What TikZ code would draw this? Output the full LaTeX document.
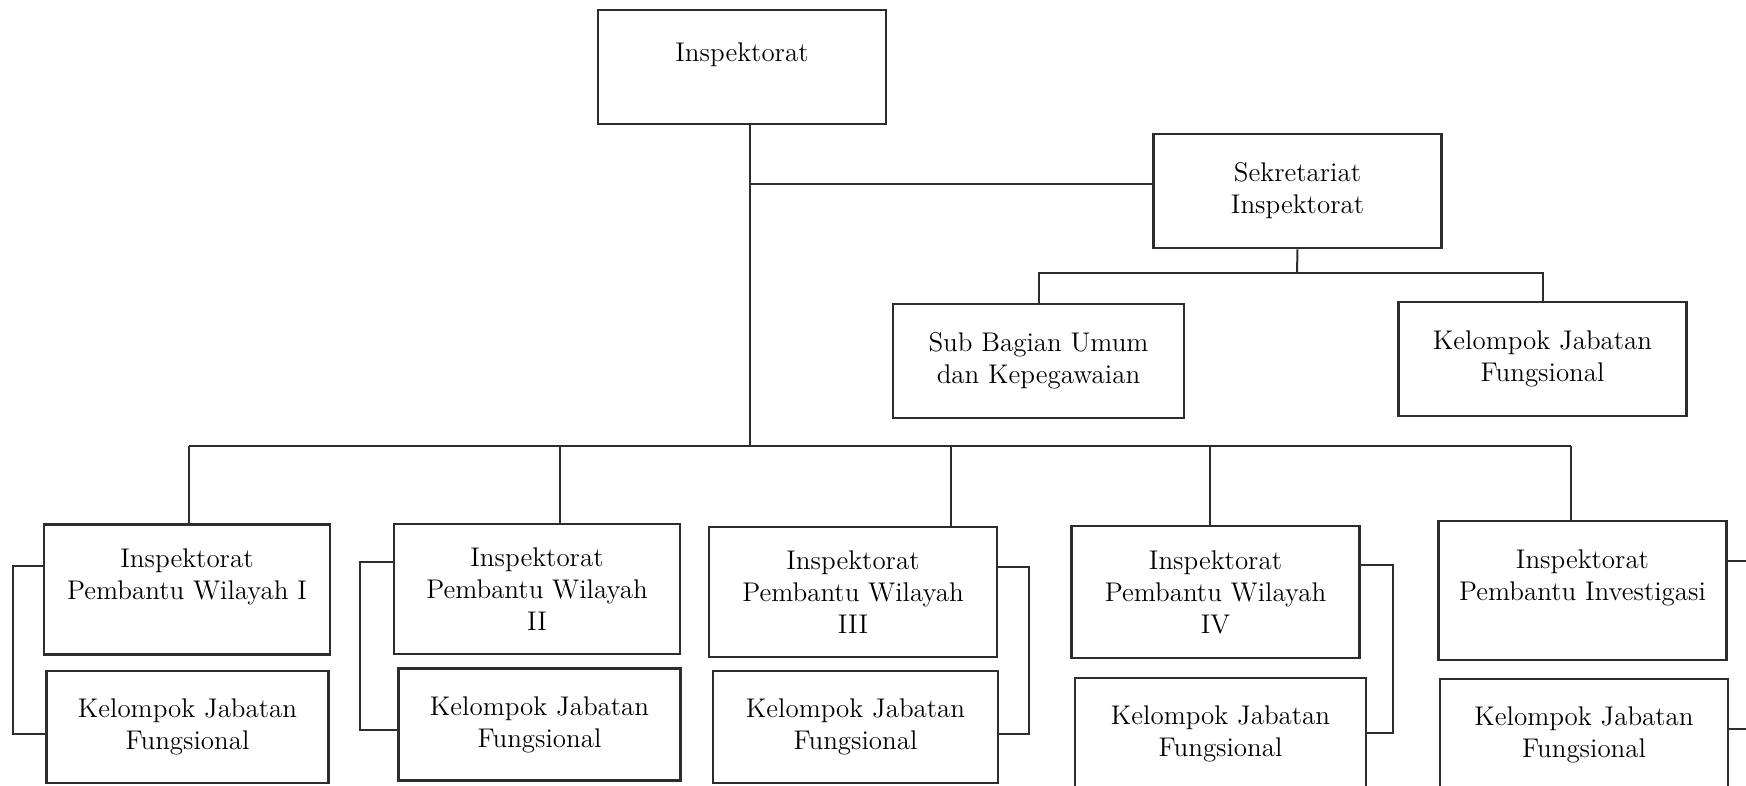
\documentclass[tikz,border=0pt]{standalone}
\usepackage{tikz}
\usetikzlibrary{calc}
\definecolor{ink}{RGB}{45,45,45}
\tikzset{
  unit/.style={draw=ink,line width=1.3pt,align=center,inner sep=2pt,
    font=\fontsize{13.5}{16}\selectfont,minimum width=144pt,minimum height=57pt},
  tallunit/.style={unit,minimum height=65pt},
  fungunit/.style={unit,minimum width=141pt,minimum height=56pt},
  link/.style={draw=ink,line width=1pt},
}

\begin{document}
\begin{tikzpicture}[x=0.5pt,y=-0.5pt]
  \useasboundingbox (0,0) rectangle (1746,786);
  \clip (0,0) rectangle (1746,786);

  % head and secretariat
  \node[unit] (insp) at (742,67) {Inspektorat\\[-6pt] \strut};
  \node[unit] (sek) at (1297.5,191) {Sekretariat\\Inspektorat};
  \node[unit,minimum width=145.5pt] (sub) at (1038.5,361) {Sub Bagian Umum\\dan Kepegawaian};
  \node[unit] (kjfS) at (1542.5,359) {Kelompok Jabatan\\Fungsional};

  % regional inspectorates
  \node[tallunit,minimum width=143pt] (ip1) at (187,589.5) {Inspektorat\\Pembantu Wilayah I\\[-5pt] \strut};
  \node[fungunit] (kjf1) at (187.5,727) {Kelompok Jabatan\\Fungsional};
  \node[tallunit,minimum width=143pt] (ip2) at (537,589) {Inspektorat\\Pembantu Wilayah\\II};
  \node[fungunit] (kjf2) at (539.5,724.5) {Kelompok Jabatan\\Fungsional};
  \node[tallunit] (ip3) at (853,592) {Inspektorat\\Pembantu Wilayah\\III};
  \node[fungunit,minimum width=142.5pt] (kjf3) at (855.5,727) {Kelompok Jabatan\\Fungsional};
  \node[tallunit,minimum height=66pt] (ip4) at (1215.5,592) {Inspektorat\\Pembantu Wilayah\\IV};
  \node[fungunit,minimum width=145.5pt] (kjf4) at (1220.5,734) {Kelompok Jabatan\\Fungsional};
  \node[tallunit,minimum height=69.5pt] (ipI) at (1582.5,590.5) {Inspektorat\\Pembantu Investigasi\\[-5pt] \strut};
  \node[fungunit,minimum width=144pt] (kjfI) at (1584,735) {Kelompok Jabatan\\Fungsional};

  % trunk and branches
  \coordinate (jSek) at (750,184);
  \coordinate (busM) at (750,446);
  \coordinate (sb) at (1297,273);
  \draw[link] (insp.south -| busM) -- (busM);
  \draw[link] (jSek) -- (jSek -| sek.west);
  \draw[link] (sek.south) -- (sb);
  \draw[link] (sub.north) |- (sb) -| (kjfS.north);

  \foreach \n/\x in {ip1/189,ip2/560,ip3/951,ip4/1210,ipI/1571}{
    \coordinate (t\n) at (\x,446);
    \draw[link] (t\n) -- (t\n |- \n.north);
  }
  \draw[link] (tip1) -- (tipI);

  % side brackets
  \foreach \a/\b/\s/\dx/\yu/\yl in {ip1/kjf1/west/-30/566/734,ip2/kjf2/west/-33/562/730,
      ip3/kjf3/east/31/567/734,ip4/kjf4/east/32/565/733,ipI/kjfI/east/40/561/729}
    \draw[link] (\a.\s |- 0,\yu) -- ++(\dx,0) |- (\b.\s |- 0,\yl);
\end{tikzpicture}
\end{document}
